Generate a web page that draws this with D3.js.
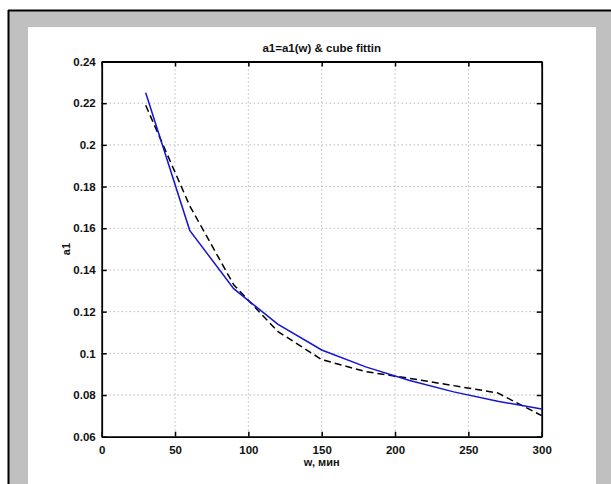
<!DOCTYPE html>
<html><head><meta charset="utf-8">
<script src="https://cdn.jsdelivr.net/npm/d3@7"></script>
<style>body{margin:0;background:#fff}svg{display:block}</style>
</head><body>
<svg id="c" width="611" height="484"></svg>
<script>
const wValues = [30, 60, 90, 120, 150, 180, 210, 240, 270, 300];
const dataA1 = [0.225, 0.159, 0.131, 0.114, 0.1016, 0.0935, 0.087, 0.0815, 0.077, 0.0733];
const fitA1  = [0.219, 0.1708, 0.1329, 0.1105, 0.097, 0.0912, 0.088, 0.0845, 0.081, 0.0701];
const xTicks = [0, 50, 100, 150, 200, 250, 300];
const yTicks = [0.06, 0.08, 0.1, 0.12, 0.14, 0.16, 0.18, 0.2, 0.22, 0.24];
const yTickLabels = ["0.06","0.08","0.1","0.12","0.14","0.16","0.18","0.2","0.22","0.24"];
const titleText = "a1=a1(w) & cube fittin";
const xLabel = "w, мин";
const yLabel = "a1";

(function(){
const svg = d3.select("#c");
svg.append("rect").attr("x",0).attr("y",0).attr("width",611).attr("height",484).attr("fill","#fff");
svg.append("rect").attr("x",8).attr("y",10).attr("width",603).attr("height",474).attr("fill","#c0c0c0");
svg.append("line").attr("x1",8).attr("x2",611).attr("y1",10.5).attr("y2",10.5).attr("stroke","#000").attr("stroke-width",2);
svg.append("line").attr("x1",8.5).attr("x2",8.5).attr("y1",10).attr("y2",484).attr("stroke","#000").attr("stroke-width",2);
svg.append("rect").attr("x",28).attr("y",27).attr("width",568).attr("height",457).attr("fill","#fff");

const L=101.7, R=541.7, T=61.5, B=436.7;
const x = d3.scaleLinear().domain([0,300]).range([L,R]);
const y = d3.scaleLinear().domain([0.06,0.24]).range([B,T]);
const font = "Arial, 'Liberation Sans', sans-serif";

const g = svg.append("g");
g.selectAll(".gx").data(xTicks.slice(1,-1)).join("line")
  .attr("x1",d=>x(d)).attr("x2",d=>x(d)).attr("y1",T).attr("y2",B)
  .attr("stroke","#999").attr("stroke-width",1).attr("stroke-dasharray","1,3");
g.selectAll(".gy").data(yTicks.slice(1,-1)).join("line")
  .attr("x1",L).attr("x2",R).attr("y1",d=>y(d)).attr("y2",d=>y(d))
  .attr("stroke","#999").attr("stroke-width",1).attr("stroke-dasharray","1,3");

const ax = (gen, tx, ty) => svg.append("g").attr("transform",`translate(${tx},${ty})`).call(gen);
const axB = ax(d3.axisBottom(x).tickValues(xTicks).tickSizeInner(-5).tickSizeOuter(0).tickPadding(9).tickFormat(d3.format("d")), 0, B);
const axT = ax(d3.axisTop(x).tickValues(xTicks).tickSizeInner(-5).tickSizeOuter(0).tickFormat(""), 0, T);
const axL = ax(d3.axisLeft(y).tickValues(yTicks).tickSizeInner(-5).tickSizeOuter(0).tickPadding(4).tickFormat((d,i)=>yTickLabels[i]), L, 0);
const axR = ax(d3.axisRight(y).tickValues(yTicks).tickSizeInner(-5).tickSizeOuter(0).tickFormat(""), R, 0);
[axB,axT,axL,axR].forEach(a=>{
  a.select(".domain").attr("stroke","#000").attr("stroke-width",1.8);
  a.selectAll(".tick line").attr("stroke","#000").attr("stroke-width",1.5);
  a.selectAll("text").attr("font-family",font).attr("font-size",11.5).attr("font-weight","bold").attr("fill","#111");
});
axL.selectAll("text").attr("dx",-2);

const line = d3.line().x((d,i)=>x(wValues[i])).y(d=>y(d));
svg.append("path").datum(fitA1).attr("d",line).attr("fill","none")
  .attr("stroke","#000").attr("stroke-width",1.5).attr("stroke-dasharray","7,4");
svg.append("path").datum(dataA1).attr("d",line).attr("fill","none")
  .attr("stroke","#1414d2").attr("stroke-width",1.5);

svg.append("text").attr("x",(L+R)/2).attr("y",52).attr("text-anchor","middle")
  .attr("font-family",font).attr("font-size",11.5).attr("font-weight","bold").attr("fill","#111").text(titleText);
svg.append("text").attr("x",(L+R)/2).attr("y",466).attr("text-anchor","middle")
  .attr("font-family",font).attr("font-size",11).attr("font-weight","bold").attr("fill","#111").text(xLabel);
svg.append("text").attr("transform",`translate(70,${(T+B)/2}) rotate(-90)`).attr("text-anchor","middle")
  .attr("font-family",font).attr("font-size",11).attr("font-weight","bold").attr("fill","#111").text(yLabel);
})();
</script>
</body></html>
